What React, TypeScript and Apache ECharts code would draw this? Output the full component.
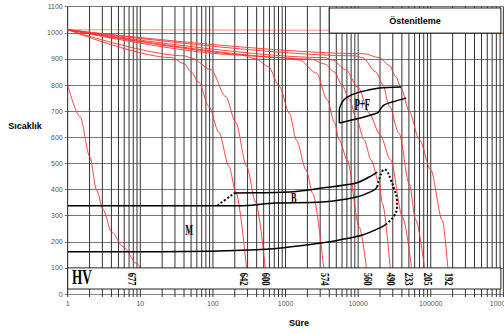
import React, { useEffect, useRef } from "react";
import * as echarts from "echarts";

// Cooling curves [time (s), temperature (°C)]
const curve677 = [[1, 800], [1.48, 679], [2.02, 525], [2.5, 398], [3.09, 322], [4.02, 238], [5.8, 181], [8.9, 117], [10, 100]];
const curve642 = [[1, 1012], [27, 905], [40, 882], [50, 850], [64, 810], [88, 718], [121, 619], [166, 489], [207, 390], [290, 100]];
const curve600 = [[1, 1012], [40, 912], [51, 903], [94, 859], [150, 756], [206, 657], [291, 489], [388, 351], [525, 100]];
const curve574 = [[1, 1012], [250, 915], [390, 900], [580, 871], [824, 794], [1132, 692], [1410, 590], [1920, 475], [2367, 385], [3350, 100]];
const curve560 = [[1, 1012], [1000, 905], [1553, 896], [2655, 846], [3767, 743], [4700, 658], [5500, 590], [7080, 513], [10350, 257], [13000, 100]];
const curve490 = [[1, 1012], [2200, 900], [3500, 880], [4700, 850], [6000, 800], [7550, 745], [9500, 670], [12100, 590], [15100, 513], [19500, 424], [21600, 347], [27600, 100]];
const curve233 = [[1, 1012], [3500, 905], [4450, 896], [6800, 858], [10000, 790], [14200, 692], [20000, 610], [28000, 513], [40700, 296], [54500, 100]];
const curve205 = [[1, 1012], [9000, 912], [11500, 905], [17600, 850], [22000, 800], [26700, 720], [36700, 615], [50300, 424], [62200, 283], [82000, 100]];
const curve192 = [[1, 1012], [12000, 920], [19500, 905], [27000, 875], [33000, 832], [39500, 785], [50300, 700], [70000, 590], [100000, 475], [144000, 283], [172000, 100]];
const austenitLine = [[1, 1012], [4000, 1010], [1000000, 1000]];

// Transformation boundaries
const bainiteUpper = [[199, 387], [1132, 391], [3210, 406], [9420, 425], [14200, 448], [18300, 467]];
const bainiteStartDotted = [[116, 339], [199, 387]];
const bainiteLower = [[1, 338], [256, 338], [705, 348], [3210, 352], [9420, 371], [16600, 398], [18300, 410]];
const noseDotted = [[18300, 410], [19800, 445], [21500, 470], [23000, 477], [25000, 470], [28000, 440], [31500, 400], [34000, 366], [34200, 330], [31500, 300], [28000, 283], [24500, 268]];
const martensiteLine = [[1, 162], [18.5, 162], [541, 171], [2920, 194], [5500, 207], [11500, 226], [21600, 258], [24500, 268]];
const pfBottom = [[5500, 655], [18300, 693], [20800, 712], [22800, 724], [29400, 735], [45800, 750]];
const pfTop = [[5500, 655], [5500, 704], [6050, 735], [7080, 754], [10350, 773], [19500, 789], [39100, 793]];

// Hardness labels at end of each cooling curve
const hvValues = ["677", "642", "600", "574", "560", "490", "233", "205", "192"];
const hvLabelTimes = [7.57, 272, 547, 3530, 13800, 28500, 50300, 91800, 178000];
const hvLabelTemp = 57;

// Region labels [time, temp, text]
const regionLabels: [number, number, string][] = [
  [47, 245, "M"],
  [1300, 367, "B"],
  [11400, 725, "P+F"],
];

// Boxes [t0, t1, T0, T1]
const austenitBox = [4010, 924000, 999, 1095];
const hvBox = [1, 924000, 19, 100];

const decades = [1, 10, 100, 1000, 10000, 100000];
const mults = [1, 2, 3, 4, 5, 6, 7, 8, 9];

export default function App() {
  const ref = useRef<HTMLDivElement>(null);
  useEffect(() => {
    if (!ref.current) return;
    const chart = echarts.init(ref.current, null, { renderer: "svg" });
    const gridX: number[] = [];
    decades.forEach((d) => mults.forEach((m) => gridX.push(m * d)));
    gridX.push(1000000);

    const redCurves = [curve677, curve642, curve600, curve574, curve560, curve490, curve233, curve205, curve192];
    const red = "#ff3030";
    const serif = "'Liberation Serif', 'Times New Roman', serif";
    const sans = "'Liberation Sans', Arial, sans-serif";

    const series: any[] = [];
    series.push({
      type: "custom",
      silent: true,
      z: 1,
      data: gridX.map((t) => [t, 0]),
      encode: { x: 0, y: 1 },
      renderItem: (params: any, api: any) => {
        const top = api.coord([api.value(0), 1100]);
        const bot = api.coord([api.value(0), 0]);
        return {
          type: "line",
          shape: { x1: top[0], y1: top[1], x2: bot[0], y2: bot[1] + 3 },
          style: { stroke: "#333", lineWidth: 1 },
        };
      },
    });
    series.push({
      type: "line", data: austenitLine, symbol: "none", silent: true, z: 2,
      lineStyle: { color: red, width: 1, opacity: 0.55 },
    });
    redCurves.forEach((c) =>
      series.push({
        type: "line", data: c, symbol: "none", silent: true, z: 2,
        smooth: 0.3, smoothMonotone: "x",
        lineStyle: { color: red, width: 0.9 },
      })
    );
    const black = (d: number[][], dotted = false, smooth: number = 0.3) => ({
      type: "line", data: d, symbol: "none", silent: true, z: 3, smooth,
      lineStyle: { color: "#000", width: dotted ? 2 : 1.5, type: dotted ? "dotted" : "solid" },
    });
    series.push(black(bainiteUpper));
    series.push(black(bainiteStartDotted, true));
    series.push(black(bainiteLower));
    series.push(black(noseDotted, true, 0.4));
    series.push(black(martensiteLine));
    series.push(black(pfBottom));
    series.push(black(pfTop));

    series.push({
      type: "custom", silent: true, z: 4,
      data: [austenitBox, hvBox],
      encode: { x: [0, 1], y: [2, 3] },
      renderItem: (params: any, api: any) => {
        const p0 = api.coord([api.value(0), api.value(3)]);
        const p1 = api.coord([api.value(1), api.value(2)]);
        const children: any[] = [
          {
            type: "rect",
            shape: { x: p0[0], y: p0[1], width: p1[0] - p0[0], height: p1[1] - p0[1] },
            style: { fill: "#fff", stroke: "#222", lineWidth: 1 },
          },
        ];
        if (params.dataIndex === 0) {
          children.push({
            type: "text",
            x: (p0[0] + p1[0]) / 2,
            y: (p0[1] + p1[1]) / 2,
            style: {
              text: "Östenitleme", fill: "#000", fontSize: 9, fontWeight: "bold",
              fontFamily: sans, align: "center", verticalAlign: "middle",
            },
          });
        } else {
          const pc = api.coord([1.57, 65]);
          children.push({
            type: "text", x: pc[0], y: pc[1], scaleX: 0.6,
            style: { text: "HV", fill: "#000", fontSize: 22, fontFamily: serif, fontWeight: "bold", align: "center", verticalAlign: "middle" },
          });
        }
        return { type: "group", children };
      },
    });

    series.push({
      type: "custom", silent: true, z: 5,
      data: hvLabelTimes.map((t) => [t, hvLabelTemp]),
      encode: { x: 0, y: 1 },
      renderItem: (params: any, api: any) => {
        const p = api.coord([api.value(0), api.value(1)]);
        return {
          type: "text", x: p[0], y: p[1], rotation: -Math.PI / 2, scaleX: 0.72,
          style: {
            text: hvValues[params.dataIndex], fill: "#000", fontSize: 12, fontFamily: serif, fontWeight: "bold",
            align: "center", verticalAlign: "middle",
          },
        };
      },
    });

    series.push({
      type: "custom", silent: true, z: 5,
      data: regionLabels.map((r) => [r[0], r[1]]),
      encode: { x: 0, y: 1 },
      renderItem: (params: any, api: any) => {
        const p = api.coord([api.value(0), api.value(1)]);
        const txt = regionLabels[params.dataIndex][2];
        return {
          type: "text", x: p[0], y: p[1], scaleX: 0.55,
          style: {
            text: txt, fill: "#000", fontSize: txt === "P+F" ? 16 : 15, fontFamily: serif, fontWeight: "bold",
            align: "center", verticalAlign: "middle",
          },
        };
      },
    });

    chart.setOption({
      animation: false,
      backgroundColor: "#fff",
      grid: { left: 67.7, right: 15.5, top: 6.7, bottom: 40, containLabel: false },
      xAxis: {
        type: "log", logBase: 10, min: 1, max: 1000000,
        axisLine: { show: true, lineStyle: { color: "#888" } },
        axisTick: { show: false },
        splitLine: { show: false },
        axisLabel: {
          fontSize: 7, color: "#555", margin: 6, fontFamily: sans,
          formatter: (v: number) => String(Math.round(v)), showMinLabel: true, showMaxLabel: true,
        },
      },
      yAxis: {
        type: "value", min: 0, max: 1100, interval: 100,
        axisLine: { show: true, lineStyle: { color: "#888" } },
        axisTick: { show: true, length: 3, lineStyle: { color: "#777" } },
        splitLine: { show: true, lineStyle: { color: "#777", width: 1.2 } },
        axisLabel: { fontSize: 7, color: "#555", margin: 5, fontFamily: sans, formatter: (v: number) => String(v) },
      },
      graphic: [
        {
          type: "text", x: 25, y: 126, z: 10,
          style: { text: "Sıcaklık", fill: "#000", fontSize: 9, fontWeight: "bold", fontFamily: sans, align: "center", verticalAlign: "middle" },
        },
        {
          type: "text", x: 299, y: 323, z: 10,
          style: { text: "Süre", fill: "#000", fontSize: 9, fontWeight: "bold", fontFamily: sans, align: "center", verticalAlign: "middle" },
        },
      ],
      series,
    });
    return () => chart.dispose();
  }, []);
  return (
    <div
      ref={ref}
      style={{ position: "fixed", left: 0, top: 0, width: 520, height: 334, background: "#fff" }}
    />
  );
}
